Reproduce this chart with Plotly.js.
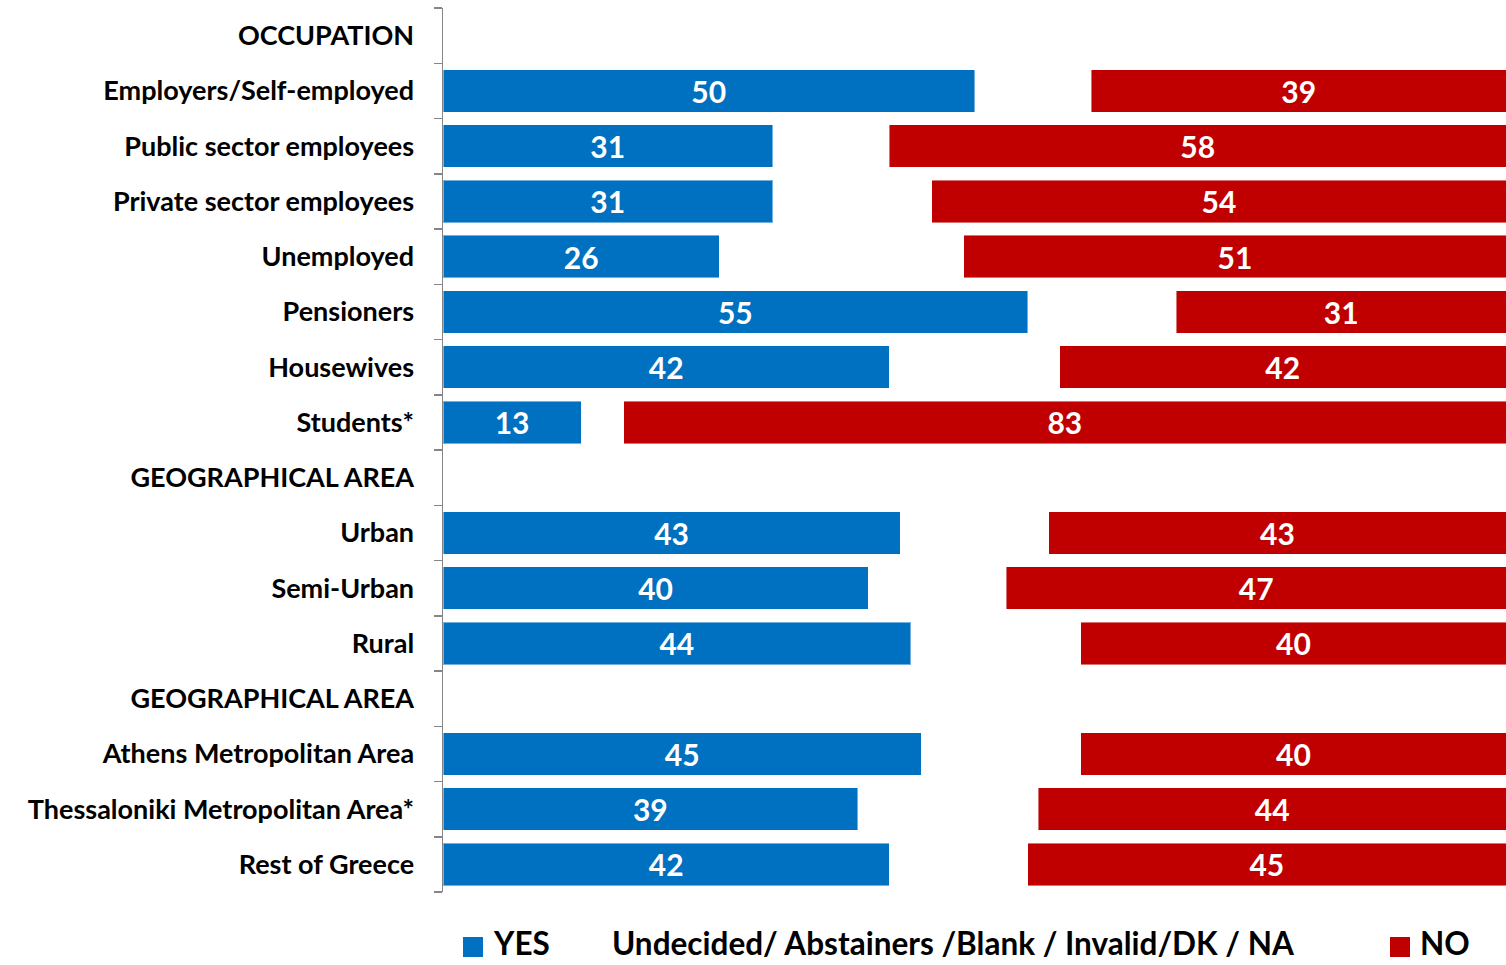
<!DOCTYPE html>
<html>
<head>
<meta charset="utf-8">
<script src="https://cdn.plot.ly/plotly-3.0.1.min.js"></script>
<style>
  html, body { margin: 0; padding: 0; background: #ffffff; }
  #chart { width: 1506px; height: 965px; }
</style>
</head>
<body>
<div id="chart"></div>
<script>
// ---- data ----
const categories = [
  "OCCUPATION",
  "Employers/Self-employed",
  "Public sector employees",
  "Private sector employees",
  "Unemployed",
  "Pensioners",
  "Housewives",
  "Students*",
  "GEOGRAPHICAL AREA",
  "Urban",
  "Semi-Urban",
  "Rural",
  "GEOGRAPHICAL AREA ",
  "Athens Metropolitan Area",
  "Thessaloniki Metropolitan Area*",
  "Rest of Greece"
];
const tickLabels = [
  "OCCUPATION",
  "Employers/Self-employed",
  "Public sector employees",
  "Private sector employees",
  "Unemployed",
  "Pensioners",
  "Housewives",
  "Students*",
  "GEOGRAPHICAL AREA",
  "Urban",
  "Semi-Urban",
  "Rural",
  "GEOGRAPHICAL AREA",
  "Athens Metropolitan Area",
  "Thessaloniki Metropolitan Area*",
  "Rest of Greece"
];
const yesValues       = [null, 50, 31, 31, 26, 55, 42, 13, null, 43, 40, 44, null, 45, 39, 42];
const undecidedValues = [null, 11, 11, 15, 23, 14, 16,  4, null, 14, 13, 16, null, 15, 17, 13];
const noValues        = [null, 39, 58, 54, 51, 31, 42, 83, null, 43, 47, 40, null, 40, 44, 45];
const seriesNames = ["YES", "Undecided/ Abstainers /Blank / Invalid/DK / NA", "NO"];

// ---- styling ----
const BLUE = "#0070C0";
const RED = "#C00000";
const FONT = "Lato, 'Open Sans', sans-serif";

function labels(arr) { return arr.map(v => (v === null ? "" : String(v))); }

const common = {
  type: "bar",
  orientation: "h",
  y: categories,
  hoverinfo: "skip",
  showlegend: false,
  constraintext: "none",
  textposition: "inside",
  insidetextanchor: "middle",
  textfont: { family: FONT, size: 30, color: "#ffffff", weight: 700 }
};

const traces = [
  Object.assign({}, common, {
    name: seriesNames[0], x: yesValues, text: labels(yesValues),
    marker: { color: BLUE, line: { color: "rgba(255,255,255,0.45)", width: 1 } }
  }),
  Object.assign({}, common, {
    name: seriesNames[1], x: undecidedValues, text: undecidedValues.map(() => ""),
    marker: { color: "rgba(255,255,255,0)", line: { width: 0 } }
  }),
  Object.assign({}, common, {
    name: seriesNames[2], x: noValues, text: labels(noValues),
    marker: { color: RED, line: { color: "rgba(255,255,255,0.45)", width: 1 } }
  })
];

// custom legend (positions in paper coords)
const L = 443, W = 1063, T = 8, H = 884;
const px = v => (v - L) / W;
const py = v => (T + H - v) / H;
const legendY = 943;

const layout = {
  width: 1506,
  height: 965,
  margin: { l: L, r: 1506 - L - W, t: T, b: 965 - T - H, pad: 0 },
  paper_bgcolor: "#ffffff",
  plot_bgcolor: "#ffffff",
  barmode: "stack",
  bargap: 0.235,
  showlegend: false,
  font: { family: FONT, color: "#000000" },
  xaxis: {
    range: [0, 100],
    showgrid: false,
    zeroline: false,
    showline: false,
    showticklabels: false,
    ticks: "",
    fixedrange: true
  },
  yaxis: {
    type: "category",
    categoryorder: "array",
    categoryarray: categories,
    tickvals: categories,
    ticktext: tickLabels,
    autorange: "reversed",
    showgrid: false,
    zeroline: false,
    showline: true,
    linecolor: "#868686",
    linewidth: 1.5,
    ticks: "outside",
    tickson: "boundaries",
    ticklen: 8,
    tickwidth: 1.5,
    tickcolor: "#868686",
    ticklabelstandoff: 22,
    tickfont: { family: FONT, size: 27, color: "#000000", weight: 700 },
    fixedrange: true
  },
  shapes: [
    { type: "rect", xref: "paper", yref: "paper",
      x0: px(463), x1: px(483), y0: py(957), y1: py(937),
      fillcolor: BLUE, line: { width: 0 } },
    { type: "rect", xref: "paper", yref: "paper",
      x0: px(1390), x1: px(1410), y0: py(957), y1: py(937),
      fillcolor: RED, line: { width: 0 } }
  ],
  annotations: [
    { text: seriesNames[0], x: px(491), xanchor: "left" },
    { text: seriesNames[1], x: px(610), xanchor: "left" },
    { text: seriesNames[2], x: px(1418), xanchor: "left" }
  ].map(a => Object.assign({
    xref: "paper", yref: "paper", y: py(legendY), yanchor: "middle",
    showarrow: false,
    font: { family: FONT, size: 31.5, color: "#000000", weight: 700 }
  }, a))
};

Plotly.newPlot("chart", traces, layout, { displayModeBar: false, staticPlot: true });
</script>
</body>
</html>
